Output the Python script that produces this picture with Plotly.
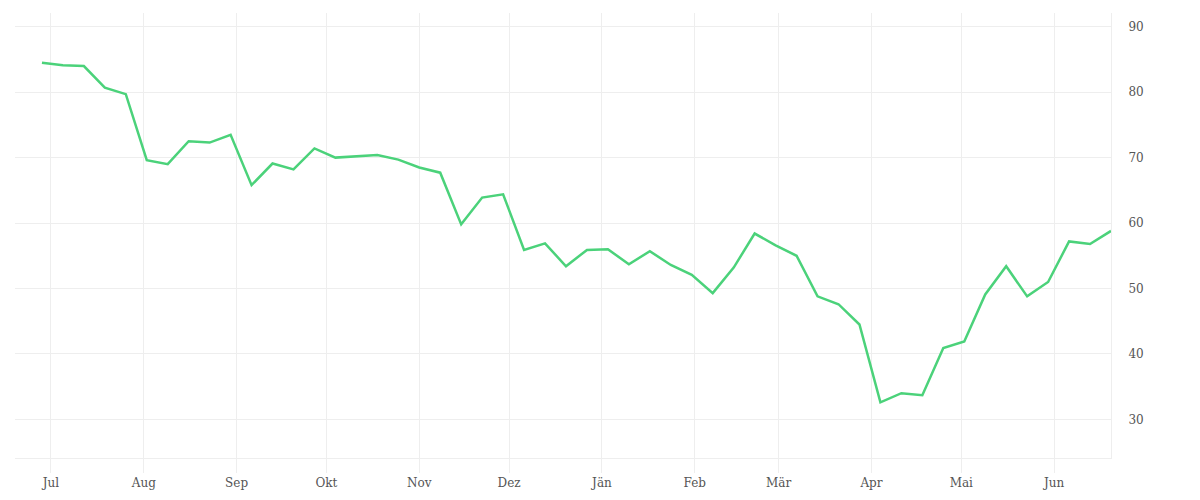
import plotly.graph_objects as go
import pandas as pd

start_date = "2018-06-28"
values = [84.5, 84.1, 84.0, 80.7, 79.7, 69.6, 69.0, 72.5, 72.3, 73.5,
          65.8, 69.1, 68.2, 71.4, 70.0, 70.2, 70.4, 69.7, 68.5, 67.7,
          59.8, 63.9, 64.4, 55.9, 56.9, 53.4, 55.9, 56.0, 53.7, 55.7,
          53.6, 52.1, 49.3, 53.2, 58.4, 56.6, 55.0, 48.8, 47.6, 44.5,
          32.6, 34.0, 33.7, 40.9, 41.9, 49.1, 53.4, 48.8, 51.0, 57.2,
          56.8, 58.8]
dates = pd.date_range(start_date, periods=len(values), freq="7D")

month_ticks = ["2018-07-01", "2018-08-01", "2018-09-01", "2018-10-01", "2018-11-01",
               "2018-12-01", "2019-01-01", "2019-02-01", "2019-03-01", "2019-04-01",
               "2019-05-01", "2019-06-01"]
month_labels = ["Jul", "Aug", "Sep", "Okt", "Nov", "Dez", "Jän", "Feb", "Mär", "Apr", "Mai", "Jun"]
y_ticks = [30, 40, 50, 60, 70, 80, 90]

fig = go.Figure()
fig.add_trace(go.Scatter(x=dates, y=values, mode="lines",
                         line=dict(color="#4bd27a", width=2.5),
                         hoverinfo="x+y"))

grid = "#eeeeee"
fig.update_layout(
    width=1200, height=500,
    margin=dict(l=7, r=97, t=5, b=50),
    paper_bgcolor="white", plot_bgcolor="white",
    showlegend=False,
    font=dict(family="DejaVu Serif, serif", size=12, color="#555"),
    xaxis=dict(
        range=["2018-06-19", "2019-06-20"],
        tickvals=month_ticks, ticktext=month_labels,
        showgrid=True, gridcolor=grid, gridwidth=1,
        showline=True, linecolor=grid, linewidth=1,
        ticks="outside", ticklen=14, tickcolor=grid,
        zeroline=False,
    ),
    yaxis=dict(
        side="right",
        range=[24.1, 92.1],
        tickvals=y_ticks,
        showgrid=True, gridcolor=grid, gridwidth=1,
        showline=True, linecolor=grid, linewidth=1,
        ticks="", ticklabelstandoff=14,
        zeroline=False,
    ),
)

fig.write_html("out.html")
